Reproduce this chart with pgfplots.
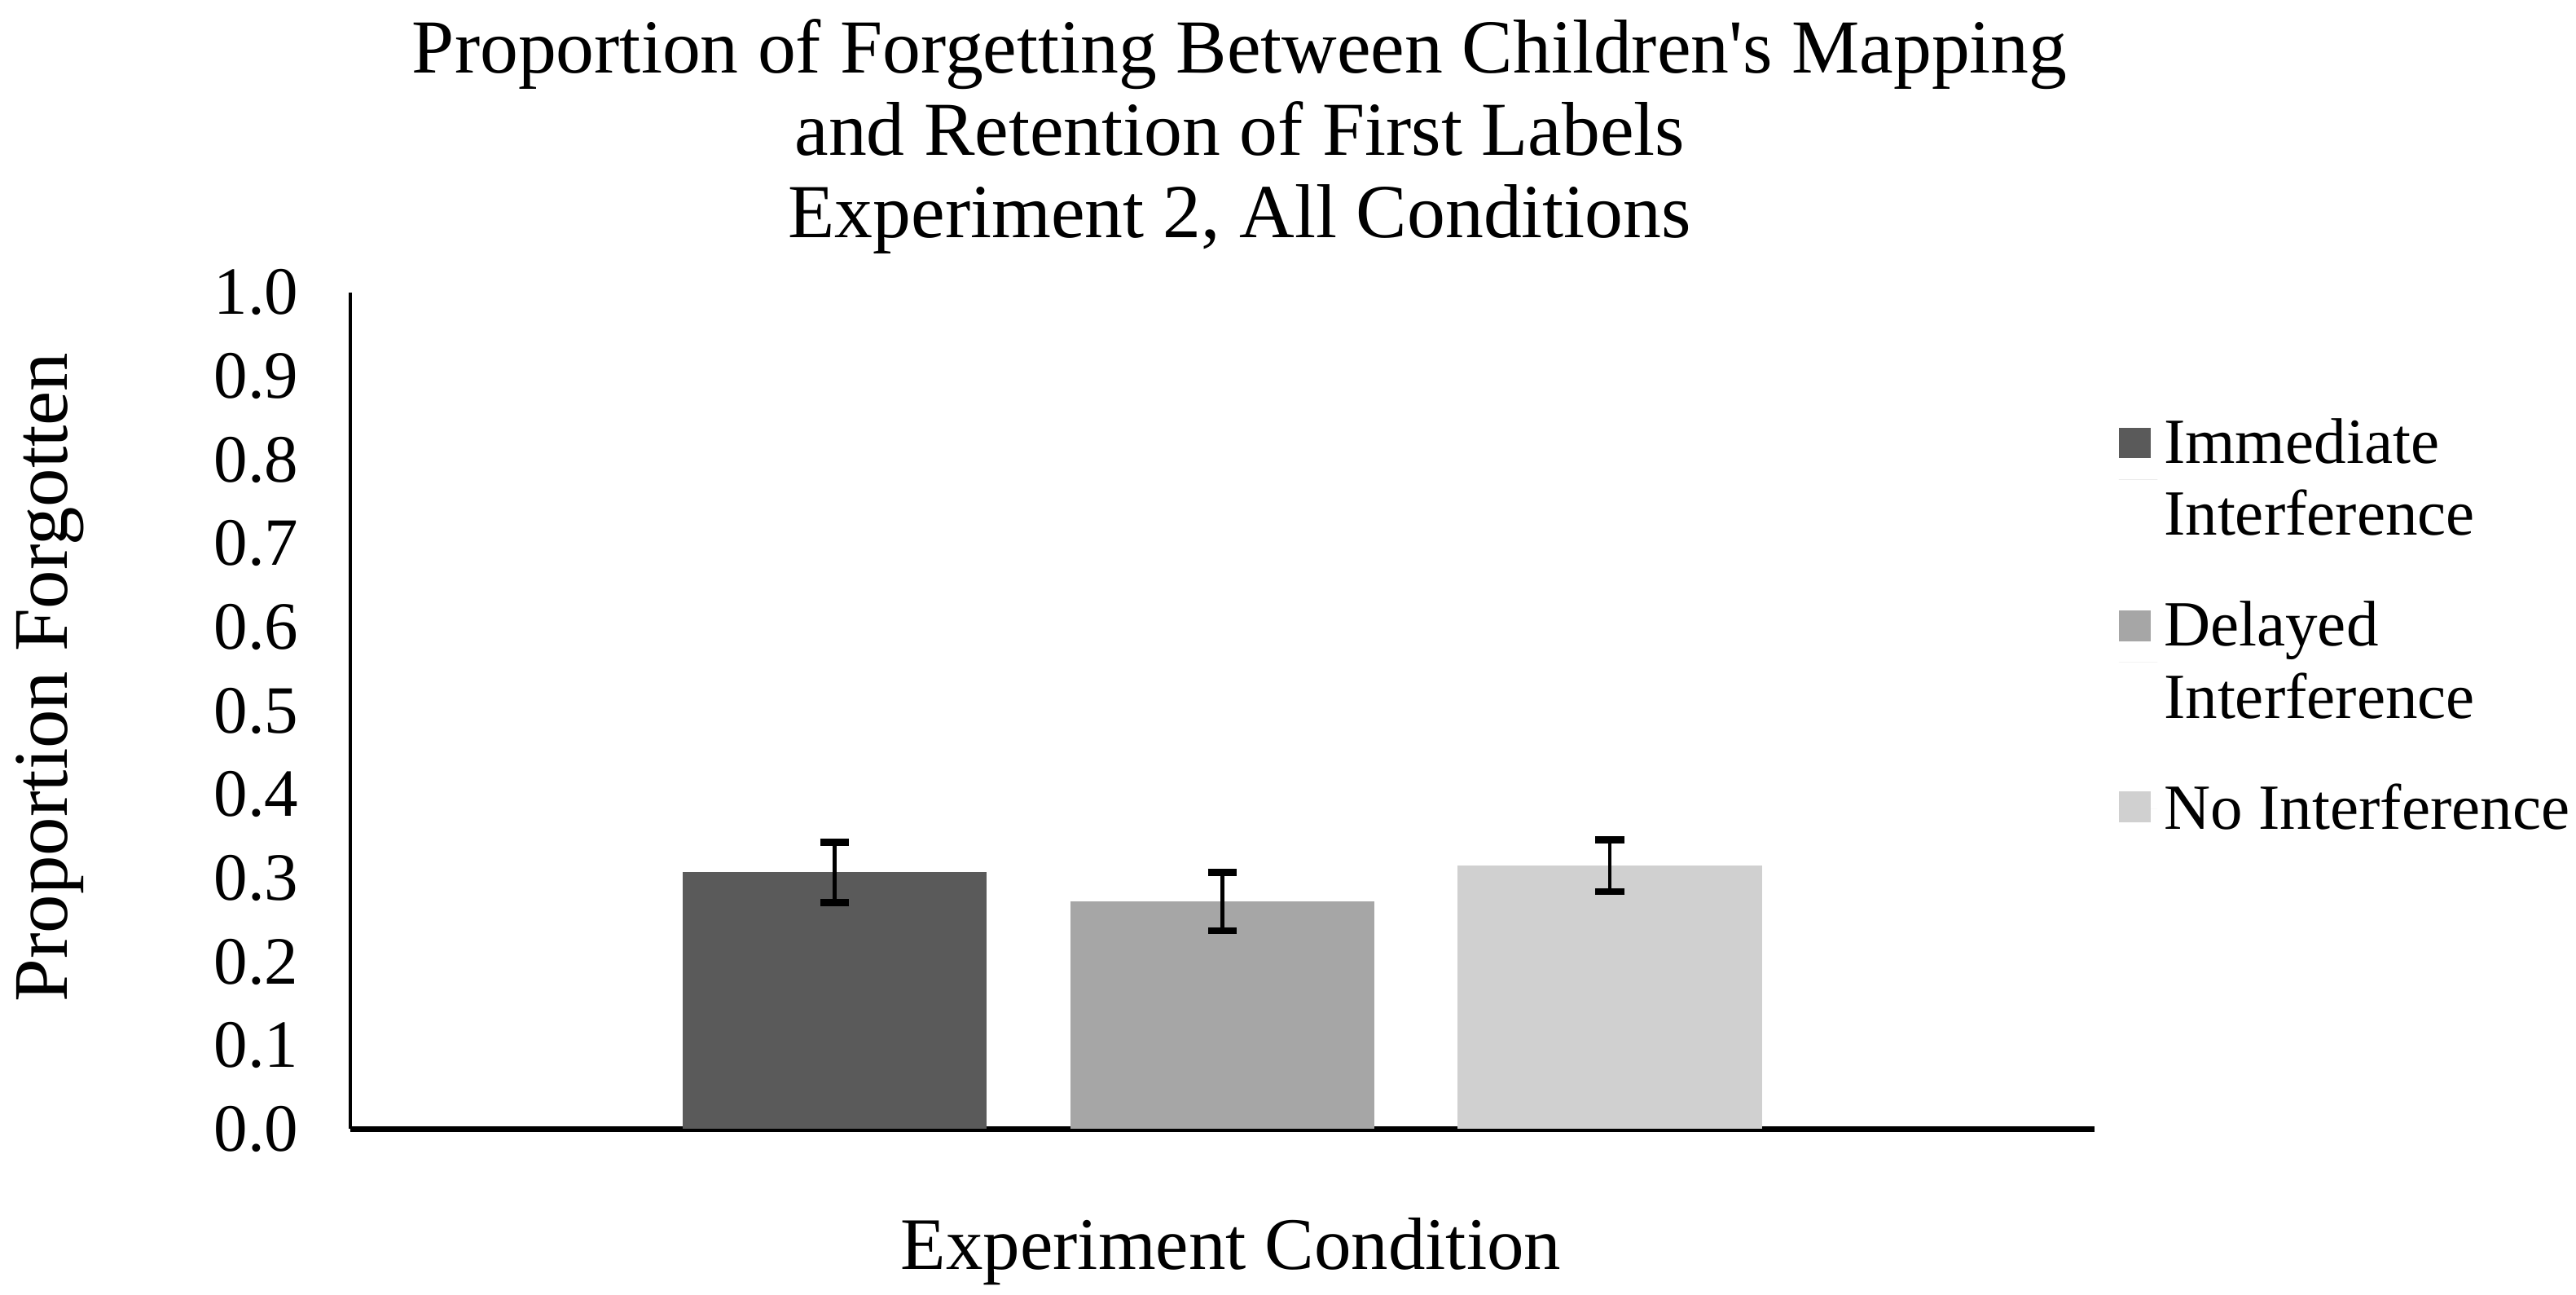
\documentclass[border=0pt]{standalone}
\usepackage{fontspec}
\setmainfont{Liberation Serif}
\usepackage{pgfplots}
\pgfplotsset{compat=1.18}

\definecolor{immed}{HTML}{5A5A5A}
\definecolor{delay}{HTML}{A6A6A6}
\definecolor{nointf}{HTML}{D0D0D0}

% legend squares: two-line entries get the square beside their first line
\pgfplotsset{
  twoline square/.style={legend image code/.code={%
    \fill[##1] (0pt,6.5pt) rectangle (10pt,16pt);
    \path (0pt,0pt) -- (12pt,0pt);}},
  oneline square/.style={legend image code/.code={%
    \fill[##1] (0pt,-4pt) rectangle (10pt,5.5pt);
    \path (0pt,0pt) -- (12pt,0pt);}},
}

\begin{document}
\begin{tikzpicture}
  \useasboundingbox (-108.7pt,-51.5pt) rectangle (691.3pt,350.5pt);
  \begin{axis}[
      scale only axis,
      width=541.8pt, height=259.7pt,
      xmin=-0.25, xmax=4.25,
      ymin=0, ymax=1,
      axis lines=left,
      axis line style={-, black},
      x axis line style={line width=1.6pt},
      y axis line style={line width=1pt},
      xtick=\empty,
      ytick={0,0.1,...,1.0},
      major tick length=0pt,
      /pgf/number format/assume math mode=true,
      yticklabel={\pgfmathprintnumber[fixed, fixed zerofill, precision=1]{\tick}},
      yticklabel style={font=\fontsize{21}{24}\selectfont, xshift=-12.5pt},
      ylabel={Proportion Forgotten},
      ylabel style={font=\fontsize{24}{28}\selectfont, at={(axis description cs:-0.172,0.54)}, anchor=center},
      xlabel={Experiment Condition},
      xlabel style={font=\fontsize{23}{27}\selectfont, at={(axis description cs:0.505,0)}, anchor=center, yshift=-38pt},
      title={Proportion of Forgetting Between Children\textquotesingle s Mapping\\and Retention of First Labels\\Experiment 2, All Conditions},
      title style={font=\fontsize{23.7}{25.6}\selectfont, align=center, at={(axis description cs:0.51,1)}, anchor=south, yshift=2.5pt},
      ybar, bar width=0.785, bar shift=0pt,
      legend style={draw=none, fill=none, at={(1.0135,0.858)}, anchor=north west,
        font=\fontsize{20}{22.4}\selectfont, cells={anchor=west, align=left},
        row sep=15pt, inner sep=0pt},
      error bars/y dir=both,
      error bars/y explicit,
      error bars/error bar style={black, line width=1.1pt},
      error bars/error mark options={black, line width=2.2pt, mark size=4.5pt, rotate=90},
    ]
    \addplot[fill=immed, draw=none, twoline square] coordinates {(1,0.307) +- (0,0.036)};
    \addlegendentry{Immediate\\Interference}
    \addplot[fill=delay, draw=none, twoline square] coordinates {(2,0.272) +- (0,0.035)};
    \addlegendentry{Delayed\\Interference}
    \addplot[fill=nointf, draw=none, oneline square] coordinates {(3,0.315) +- (0,0.031)};
    \addlegendentry{No Interference}
  \end{axis}
\end{tikzpicture}
\end{document}
